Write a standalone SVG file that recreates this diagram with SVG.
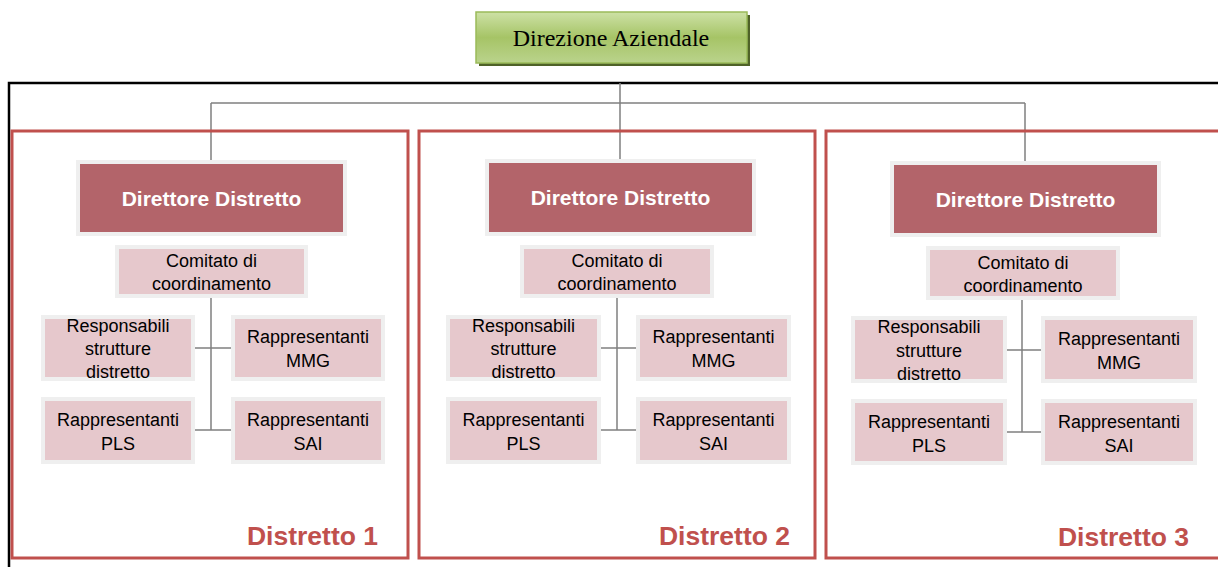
<svg xmlns="http://www.w3.org/2000/svg" width="1218" height="567" viewBox="0 0 1218 567">
<defs>
<linearGradient id="g" x1="0" y1="0" x2="0" y2="1">
<stop offset="0" stop-color="#cde1a6"/>
<stop offset="0.5" stop-color="#a6c466"/>
<stop offset="1" stop-color="#bad38c"/>
</linearGradient>
</defs>
<style>
.frame{fill:none;stroke:#c0504d;stroke-width:3}
.dir{fill:#b3646a;stroke:#efefef;stroke-width:4}
.sub{fill:#e6c8cc;stroke:#efefef;stroke-width:4}
.dt{font-family:"Liberation Sans",Arial,sans-serif;font-weight:bold;font-size:21px;fill:#ffffff;text-anchor:middle}
.st{font-family:"Liberation Sans",Arial,sans-serif;font-size:18px;fill:#000000;text-anchor:middle}
.lab{font-family:"Liberation Sans",Arial,sans-serif;font-weight:bold;font-size:26.5px;fill:#c0504d;text-anchor:end}
.con{fill:none;stroke:#808080;stroke-width:1.5}
</style>
<rect width="1218" height="567" fill="#ffffff"/>
<path d="M9,570 V83 H1222" fill="none" stroke="#000000" stroke-width="2.5"/>

<g id="top">
<rect x="479" y="15" width="271" height="51" fill="#4f6228"/>
<rect x="476" y="12" width="271" height="51" fill="url(#g)" stroke="#9bbb59" stroke-width="1.5"/>
<text x="611" y="46" font-family="'Liberation Serif','Times New Roman',serif" font-size="24px" text-anchor="middle" fill="#000">Direzione Aziendale</text>
</g>

<g id="connectors">
<path class="con" d="M620,83 V103 M211,103 H1025 M211,103 V162 M620,103 V161 M1025,103 V163"/>
<path class="con" d="M211,296 V430 M193,348 H233 M193,430 H233"/>
<path class="con" d="M617,296 V430 M599,348 H638 M599,430 H638"/>
<path class="con" d="M1022,298 V432 M1005,350 H1043 M1005,432 H1043"/>
</g>

<g id="distretto1">
<rect class="frame" x="12" y="131" width="396" height="427"/>
<text class="lab" x="378" y="545">Distretto 1</text>
</g>
<g id="dir1">
<rect class="dir" x="78" y="162" width="267" height="72"/>
<text class="dt" x="211.5" y="206">Direttore Distretto</text>
</g>
<g id="com1">
<rect class="sub" x="117" y="247" width="189" height="49"/>
<text class="st" x="211.5" y="267">Comitato di</text>
<text class="st" x="211.5" y="290">coordinamento</text>
</g>
<g id="resp1">
<rect class="sub" x="43" y="317" width="150" height="62"/>
<text class="st" x="118" y="332">Responsabili</text>
<text class="st" x="118" y="355">strutture</text>
<text class="st" x="118" y="378">distretto</text>
</g>
<g id="mmg1">
<rect class="sub" x="233" y="317" width="150" height="62"/>
<text class="st" x="308" y="343">Rappresentanti</text>
<text class="st" x="308" y="367">MMG</text>
</g>
<g id="pls1">
<rect class="sub" x="43" y="399" width="150" height="63"/>
<text class="st" x="118" y="426">Rappresentanti</text>
<text class="st" x="118" y="450">PLS</text>
</g>
<g id="sai1">
<rect class="sub" x="233" y="399" width="150" height="63"/>
<text class="st" x="308" y="426">Rappresentanti</text>
<text class="st" x="308" y="450">SAI</text>
</g>

<g id="distretto2">
<rect class="frame" x="419" y="131" width="396" height="427"/>
<text class="lab" x="790" y="545">Distretto 2</text>
</g>
<g id="dir2">
<rect class="dir" x="487" y="161" width="267" height="73"/>
<text class="dt" x="620.5" y="205">Direttore Distretto</text>
</g>
<g id="com2">
<rect class="sub" x="522" y="247" width="190" height="49"/>
<text class="st" x="617" y="267">Comitato di</text>
<text class="st" x="617" y="290">coordinamento</text>
</g>
<g id="resp2">
<rect class="sub" x="448" y="317" width="151" height="62"/>
<text class="st" x="523.5" y="332">Responsabili</text>
<text class="st" x="523.5" y="355">strutture</text>
<text class="st" x="523.5" y="378">distretto</text>
</g>
<g id="mmg2">
<rect class="sub" x="638" y="317" width="151" height="62"/>
<text class="st" x="713.5" y="343">Rappresentanti</text>
<text class="st" x="713.5" y="367">MMG</text>
</g>
<g id="pls2">
<rect class="sub" x="448" y="399" width="151" height="63"/>
<text class="st" x="523.5" y="426">Rappresentanti</text>
<text class="st" x="523.5" y="450">PLS</text>
</g>
<g id="sai2">
<rect class="sub" x="638" y="399" width="151" height="63"/>
<text class="st" x="713.5" y="426">Rappresentanti</text>
<text class="st" x="713.5" y="450">SAI</text>
</g>

<g id="distretto3">
<rect class="frame" x="826" y="131" width="400" height="427"/>
<text class="lab" x="1189" y="546">Distretto 3</text>
</g>
<g id="dir3">
<rect class="dir" x="892" y="163" width="267" height="72"/>
<text class="dt" x="1025.5" y="207">Direttore Distretto</text>
</g>
<g id="com3">
<rect class="sub" x="928" y="248" width="190" height="50"/>
<text class="st" x="1023" y="269">Comitato di</text>
<text class="st" x="1023" y="292">coordinamento</text>
</g>
<g id="resp3">
<rect class="sub" x="853" y="318" width="152" height="63"/>
<text class="st" x="929" y="333">Responsabili</text>
<text class="st" x="929" y="357">strutture</text>
<text class="st" x="929" y="380">distretto</text>
</g>
<g id="mmg3">
<rect class="sub" x="1043" y="318" width="152" height="63"/>
<text class="st" x="1119" y="345">Rappresentanti</text>
<text class="st" x="1119" y="369">MMG</text>
</g>
<g id="pls3">
<rect class="sub" x="853" y="401" width="152" height="62"/>
<text class="st" x="929" y="428">Rappresentanti</text>
<text class="st" x="929" y="452">PLS</text>
</g>
<g id="sai3">
<rect class="sub" x="1043" y="401" width="152" height="62"/>
<text class="st" x="1119" y="428">Rappresentanti</text>
<text class="st" x="1119" y="452">SAI</text>
</g>
</svg>
